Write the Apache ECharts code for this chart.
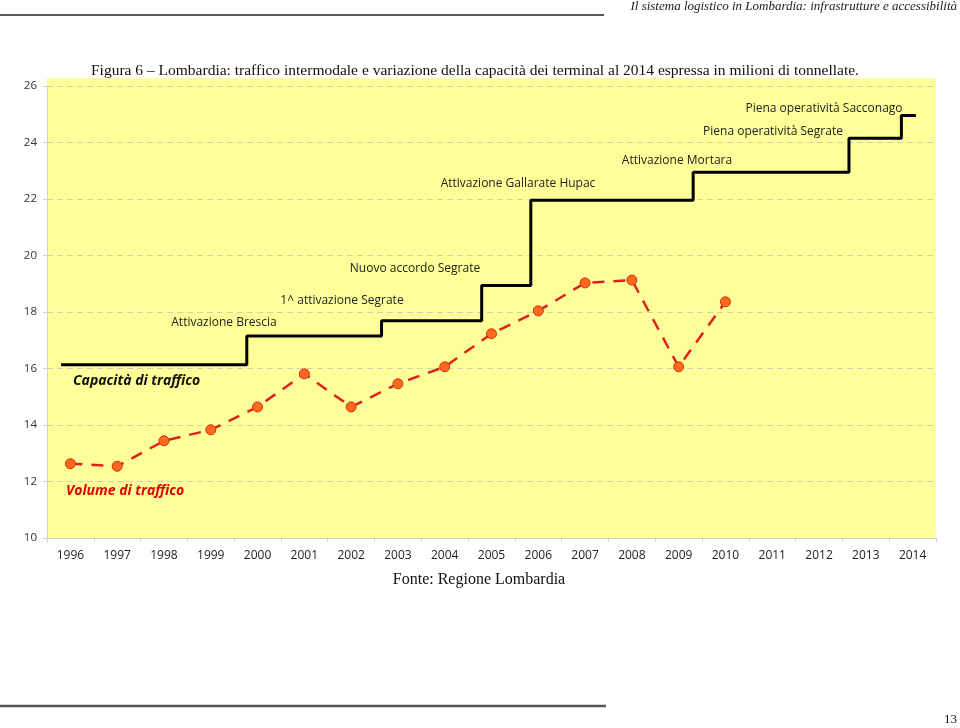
<!DOCTYPE html>
<html>
<head>
<meta charset="utf-8">
<script src="https://cdn.jsdelivr.net/npm/echarts@6/dist/echarts.min.js"></script>
<style>
html,body{margin:0;padding:0;background:#fff;}
#chart{width:960px;height:728px;}
</style>
</head>
<body>
<div id="chart"></div>
<script>
// ---- Data ----
var years = ['1996','1997','1998','1999','2000','2001','2002','2003','2004','2005','2006','2007','2008','2009','2010','2011','2012','2013','2014'];
var yTicks = [10, 12, 14, 16, 18, 20, 22, 24, 26];
// Volume di traffico (milioni di tonnellate)
var volume = [12.63, 12.54, 13.44, 13.83, 14.64, 15.81, 14.64, 15.46, 16.06, 17.23, 18.04, 19.03, 19.13, 16.06, 18.36, null, null, null, null];
// Capacità di traffico: step changes (position in years, level)
var capacityYears = [1995.80, 1999.77, 2002.65, 2004.79, 2005.84, 2009.31, 2012.64, 2013.76, 2014.07];
var capacityLevels = [16.13, 17.15, 17.69, 18.94, 21.96, 22.95, 24.15, 24.96, 24.96];
var events = ['Attivazione Brescia', '1^ attivazione Segrate', 'Nuovo accordo Segrate', 'Attivazione Gallarate Hupac', 'Attivazione Mortara', 'Piena operatività Segrate', 'Piena operatività Sacconago'];

var capacityData = capacityYears.map(function (y, i) { return [y, capacityLevels[i]]; });

var chart = echarts.init(document.getElementById('chart'));
var sans = '"Open Sans", "Liberation Sans", sans-serif';
var serif = '"Liberation Serif", "DejaVu Serif", serif';

// annotation pixel positions (layout only)
var evPos = [[224, 323], [342, 301], [415, 269], [518, 184], [677, 161], [773, 132], [824, 109]];

var graphics = [
  {type:'rect', z:-1, shape:{x:47, y:78, width:889, height:9}, style:{fill:'#ffff99'}},
  {type:'line', shape:{x1:0, y1:15, x2:604, y2:15}, style:{stroke:'#222', lineWidth:1.5}},
  {type:'text', style:{text:'Il sistema logistico in Lombardia: infrastrutture e accessibilità', x:957, y:7, align:'right', verticalAlign:'middle', font:'italic 13px ' + serif, fill:'#222'}},
  {type:'text', style:{text:'Figura 6 – Lombardia: traffico intermodale e variazione della capacità dei terminal al 2014 espressa in milioni di tonnellate.', x:91, y:71, align:'left', verticalAlign:'middle', font:'15.5px ' + serif, fill:'#111'}},
  {type:'text', style:{text:'Fonte: Regione Lombardia', x:479, y:580, align:'center', verticalAlign:'middle', font:'16px ' + serif, fill:'#111'}},
  {type:'line', shape:{x1:0, y1:706, x2:606, y2:706}, style:{stroke:'#555', lineWidth:2.5}},
  {type:'text', style:{text:'13', x:957, y:720, align:'right', verticalAlign:'middle', font:'13px ' + serif, fill:'#111'}},
  {type:'text', style:{text:'Capacità di traffico', x:73, y:381, align:'left', verticalAlign:'middle', font:'italic bold 14px ' + sans, fill:'#111'}},
  {type:'text', style:{text:'Volume di traffico', x:66, y:491, align:'left', verticalAlign:'middle', font:'italic bold 14px ' + sans, fill:'#e00000'}}
];
events.forEach(function (t, i) {
  graphics.push({type:'text', style:{text:t, x:evPos[i][0], y:evPos[i][1], align:'center', verticalAlign:'middle', font:'12px ' + sans, fill:'#222'}});
});

var option = {
  animation: false,
  backgroundColor: '#fff',
  grid: {left:47, right:24, top:86, bottom:190, show:true, backgroundColor:'#ffff99', borderWidth:0},
  xAxis: [
    {type:'category', data:years, boundaryGap:true,
     axisLine:{lineStyle:{color:'#d0d0d0'}},
     axisTick:{show:true, length:4, lineStyle:{color:'#d0d0d0'}},
     axisLabel:{color:'#222', fontFamily:sans, fontSize:12, margin:12},
     splitLine:{show:false}},
    {type:'value', min:1995.5, max:2014.5, show:false}
  ],
  yAxis: {type:'value', min:yTicks[0], max:yTicks[yTicks.length-1], interval:2,
    axisLine:{show:true, lineStyle:{color:'#d0d0d0'}},
    axisTick:{show:true, length:4, lineStyle:{color:'#d0d0d0'}},
    axisLabel:{color:'#333', fontFamily:sans, fontSize:11.5, margin:10},
    splitLine:{show:true, lineStyle:{color:'#d2d2b0', type:[6,4], width:1}}
  },
  graphic: graphics,
  series: [
    {name:'Capacità di traffico', type:'line', xAxisIndex:1, data:capacityData, step:'end',
     symbol:'none', lineStyle:{color:'#000', width:3}, z:3},
    {name:'Volume di traffico', type:'line', xAxisIndex:0, data:volume, connectNulls:false,
     symbol:'circle', symbolSize:10,
     itemStyle:{color:'#ff6a1a', borderColor:'#c8321e', borderWidth:1},
     lineStyle:{color:'#e0201a', width:2.5, type:[12,9]}, z:4}
  ]
};
chart.setOption(option);
</script>
</body>
</html>
